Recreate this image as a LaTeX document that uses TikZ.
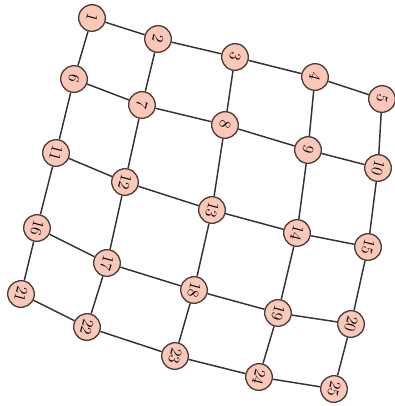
\documentclass[tikz,border=0pt]{standalone}
\usetikzlibrary{positioning}
\definecolor{vfill}{RGB}{250,200,185}
\definecolor{vline}{RGB}{75,60,55}
\tikzset{
  vertex/.style={circle,draw=vline,fill=vfill,line width=1pt,
    minimum size=20pt,inner sep=0pt,font=\large,rotate=-105},
  edge/.style={draw=black!80,line width=1.1pt}
}
\begin{document}
\begin{tikzpicture}[x=0.75pt,y=-0.75pt]
  \useasboundingbox (0,0) rectangle (395,406);
  % grid vertices
  \foreach \n/\x/\y in {1/92/18,2/158/39,3/235/57,4/315/77,5/382/99,
      6/74/79,7/142/105,8/225/125,9/308/150,10/378/168,
      11/56/153,12/125/182,13/212/210,14/297/233,15/368/247,
      16/37/228,17/107/263,18/194/290,19/278/313,20/351/324,
      21/21/294,22/87/327,23/175/356,24/259/377,25/334/389}
    \node[vertex] (v\n) at (\x,\y) {\n};
  % rows and columns
  \foreach \i in {1,...,25}{
    \pgfmathtruncatemacro{\r}{mod(\i,5)}
    \pgfmathtruncatemacro{\j}{\i+1}
    \pgfmathtruncatemacro{\k}{\i+5}
    \ifnum\r>0 \draw[edge] (v\i) -- (v\j); \fi
    \ifnum\k<26 \draw[edge] (v\i) -- (v\k); \fi
  }
\end{tikzpicture}
\end{document}
